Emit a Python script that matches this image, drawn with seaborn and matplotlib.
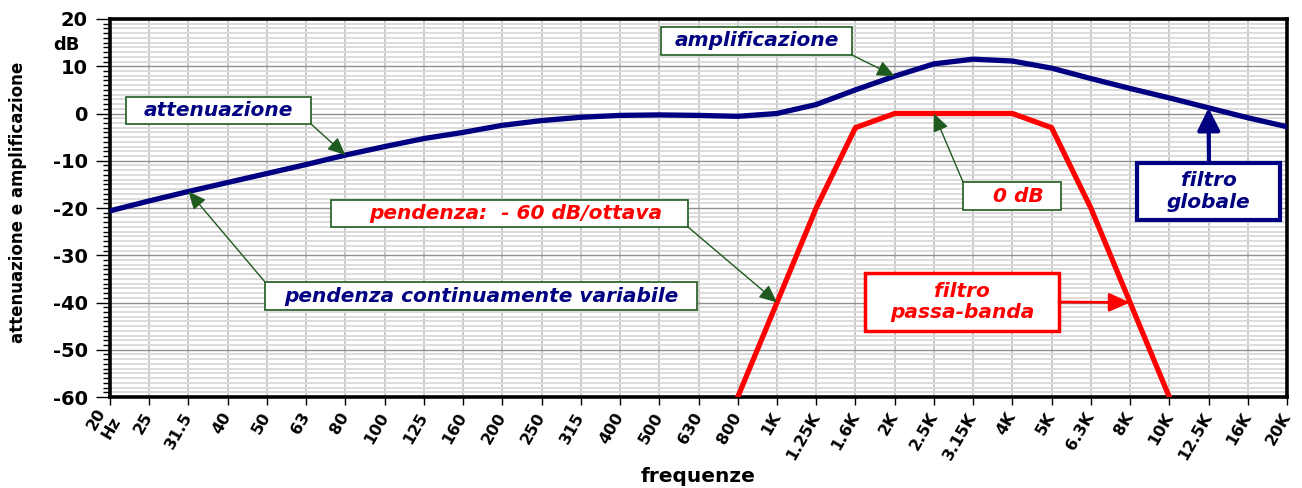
import numpy as np
import pandas as pd
import matplotlib
matplotlib.use("Agg")
import matplotlib.pyplot as plt
from matplotlib.patches import Rectangle
import seaborn as sns

# ---------------- data ----------------
freq_labels = ["20\nHz", "25", "31.5", "40", "50", "63", "80", "100", "125", "160",
               "200", "250", "315", "400", "500", "630", "800", "1K", "1.25K", "1.6K",
               "2K", "2.5K", "3.15K", "4K", "5K", "6.3K", "8K", "10K", "12.5K", "16K", "20K"]
global_db = [-20.6, -18.5, -16.5, -14.6, -12.7, -10.8, -8.8, -7.0, -5.3, -4.0,
             -2.5, -1.5, -0.8, -0.4, -0.3, -0.4, -0.6, 0.0, 1.9, 5.0,
             7.9, 10.5, 11.5, 11.1, 9.6, 7.4, 5.3, 3.3, 1.2, -0.9, -2.8]
bandpass_labels = ["800", "1K", "1.25K", "1.6K", "2K", "2.5K", "3.15K", "4K",
                   "5K", "6.3K", "8K", "10K"]
bandpass_db = [-60, -40, -20, -3, 0, 0, 0, 0, -3, -20, -40, -60]
y_ticks = [-60, -50, -40, -30, -20, -10, 0, 10, 20]
octave_labels = ["31.5", "63", "125", "250", "500", "1K", "2K", "4K", "8K", "16K"]

pos = list(range(len(freq_labels)))
df_global = pd.DataFrame({"pos": pos, "db": global_db})
bp_pos = [freq_labels.index(l) for l in bandpass_labels]
df_bp = pd.DataFrame({"pos": bp_pos, "db": bandpass_db})
octave_pos = [freq_labels.index(l) for l in octave_labels]

NAVY = "#000080"
RED = "#ff0000"
GREEN = "#1f5a1f"

sns.set_style("white")
plt.rcParams["font.family"] = ["DejaVu Sans"]
plt.rcParams["text.color"] = "black"
plt.rcParams["xtick.color"] = "black"
plt.rcParams["ytick.color"] = "black"
plt.rcParams["xtick.labelcolor"] = "black"
plt.rcParams["ytick.labelcolor"] = "black"

W, H = 1302, 488
fig, ax = plt.subplots(figsize=(W / 100, H / 100), dpi=100)
L, R, T, B = 110, 1287, 19, 397
fig.subplots_adjust(left=L / W, right=R / W, top=1 - T / H, bottom=1 - B / H)

# grid
ax.set_axisbelow(True)
ax.set_xlim(0, len(freq_labels) - 1)
ax.set_ylim(-60, 20)
ax.set_xticks(pos)
ax.set_xticks(octave_pos, minor=True)
ax.set_yticks(y_ticks)
ax.set_yticks(range(-60, 21), minor=True)
ax.grid(True, which="minor", axis="y", color="#d9d9d9", lw=1.3)
ax.grid(True, which="major", axis="y", color="#8f8f8f", lw=1.0)
ax.grid(True, which="major", axis="x", color="#c6c6c6", lw=1.3)
ax.grid(True, which="minor", axis="x", color="#8a8a8a", lw=1.0)

# data lines
sns.lineplot(data=df_global, x="pos", y="db", color=NAVY, lw=3.8, ax=ax, zorder=4)
sns.lineplot(data=df_bp, x="pos", y="db", color=RED, lw=3.8, ax=ax, zorder=4)

# ticks
ax.set_xticklabels(freq_labels, rotation=60, ha="right", va="center",
                   rotation_mode="anchor", fontweight="bold", fontsize=11.5, color="black")
ax.set_yticklabels([str(v) for v in y_ticks], fontweight="bold", fontsize=14, color="black")
ax.tick_params(axis="x", which="major", length=6, width=1, pad=6, color="black", direction="out", bottom=True)
ax.tick_params(axis="x", which="minor", length=14, width=1, color="black", direction="out", bottom=True)
ax.tick_params(axis="y", which="major", length=10, width=1, pad=6, color="black", direction="out", left=True)
ax.tick_params(axis="y", which="minor", length=5, width=1, color="black", direction="out", left=True)
ax.set_xlabel("")
ax.set_ylabel("")
for s in ax.spines.values():
    s.set_color("black")
    s.set_linewidth(2.6)

fig.text(66 / W, 1 - 45 / H, "dB", ha="center", va="center", fontsize=13,
         fontweight="bold", color="black")
fig.text(18 / W, 1 - 202 / H, "attenuazione e amplificazione", rotation=90,
         ha="center", va="center", fontsize=12, fontweight="bold", color="black")
fig.text(698 / W, 1 - 477 / H, "frequenze", ha="center", va="center",
         fontsize=14.5, fontweight="bold", color="black")


def af(px, py):
    return ((px - L) / (R - L), (B - py) / (B - T))


def box(x0, y0, x1, y1, text, tcolor, ecolor, lw, fs=14.5, dx=0):
    ax0, ay1 = af(x0, y1)
    ax1, ay0 = af(x1, y0)
    ax.add_patch(Rectangle((ax0, ay1), ax1 - ax0, ay0 - ay1, transform=ax.transAxes,
                           facecolor="white", edgecolor=ecolor, lw=lw, zorder=6,
                           clip_on=False))
    ax.text((ax0 + ax1) / 2 + dx / (R - L), (ay0 + ay1) / 2, text, transform=ax.transAxes,
            ha="center", va="center", color=tcolor, fontsize=fs, fontweight="bold",
            style="italic", zorder=7, linespacing=1.15)


def arrow(tail_px, tip_data, color=GREEN, lw=1.0, ms=12, hl=0.9, hw=0.4):
    ax.annotate("", xy=tip_data, xycoords="data", xytext=af(*tail_px),
                textcoords="axes fraction",
                arrowprops=dict(arrowstyle=f"-|>,head_length={hl},head_width={hw}",
                                color=color, lw=lw, mutation_scale=ms,
                                shrinkA=0, shrinkB=0),
                zorder=8)


box(126, 97, 311, 124, "attenuazione", NAVY, GREEN, 1.2)
arrow((311, 124), (6, global_db[6]))

box(265, 282, 697, 310, "pendenza continuamente variabile", NAVY, GREEN, 1.2, fs=14.5)
arrow((265, 282), (2, global_db[2]))

box(661, 27, 852, 55, "amplificazione", NAVY, GREEN, 1.2)
arrow((852, 55), (20, global_db[20]))

box(963, 182, 1061, 210, "0 dB", RED, GREEN, 1.2, dx=6)
arrow((963, 182), (21, bandpass_db[5]))

box(331, 200, 688, 227, "pendenza:  - 60 dB/ottava", RED, GREEN, 1.2, dx=6)
arrow((688, 227), (17, bandpass_db[1]))

box(865, 273, 1059, 331, "filtro\npassa-banda", RED, RED, 2.5)
arrow((1059, 302), (26, bandpass_db[10]), color=RED, lw=2.0, ms=14)

box(1137, 163, 1280, 220, "filtro\nglobale", NAVY, NAVY, 3.0)
arrow((1209, 163), (28, global_db[28]), color=NAVY, lw=3.0, ms=17, hl=0.8, hw=0.4)

fig.savefig("out.png", dpi=100, facecolor="white")
